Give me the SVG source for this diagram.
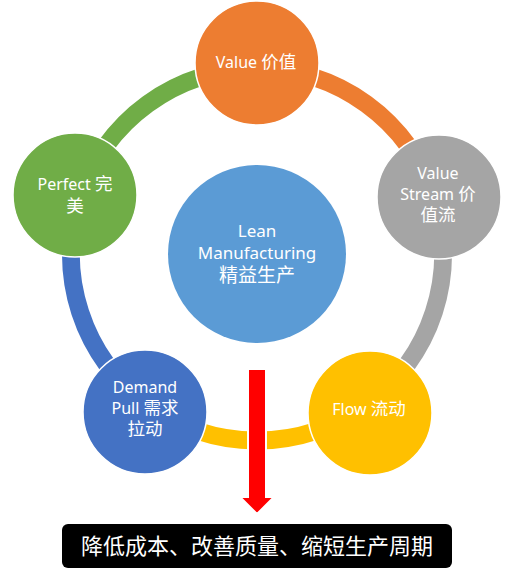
<svg xmlns="http://www.w3.org/2000/svg" width="512" height="572" viewBox="0 0 512 572">
<style>
.arc{fill:none;stroke-width:18}
.node{stroke:#fff;stroke-width:1.5}
.t{font-family:"Noto Sans","Noto Sans CJK SC",sans-serif;font-size:16px;fill:#fff;text-anchor:middle}
.c{font-family:"Noto Sans CJK SC","Noto Sans",sans-serif;font-size:17.5px}
.tc{font-size:17px}
.tc .c{font-size:19px}
.b{font-family:"Noto Sans CJK SC","Noto Sans",sans-serif;font-size:22px;fill:#fff;text-anchor:middle}
</style>
<rect width="512" height="572" fill="#fff"/>
<g id="connectors">
<path class="arc" stroke="#ED7D31" d="M257,68.5 A186,186 0 0 1 433.9,197"/>
<path class="arc" stroke="#A5A5A5" d="M433.9,197 A186,186 0 0 1 366.3,405"/>
<path class="arc" stroke="#FFC000" d="M366.3,405 A186,186 0 0 1 147.7,405"/>
<path class="arc" stroke="#4472C4" d="M147.7,405 A186,186 0 0 1 80.1,197"/>
<path class="arc" stroke="#70AD47" d="M80.1,197 A186,186 0 0 1 257,68.5"/>
</g>
<g id="center">
<circle cx="257" cy="254" r="89" fill="#5B9BD5"/>
<text class="t tc" x="257" y="237">Lean</text>
<text class="t tc" x="257" y="259">Manufacturing</text>
<text class="t tc" x="257" y="282"><tspan class="c">精益生产</tspan></text>
</g>
<g id="value">
<circle class="node" cx="257" cy="63" r="62" fill="#ED7D31"/>
<text class="t" x="256" y="68">Value <tspan class="c">价值</tspan></text>
</g>
<g id="value-stream">
<circle class="node" cx="439" cy="197" r="62" fill="#A5A5A5"/>
<text class="t" x="438" y="179">Value</text>
<text class="t" x="438" y="200">Stream <tspan class="c">价</tspan></text>
<text class="t" x="438" y="221"><tspan class="c">值流</tspan></text>
</g>
<g id="flow">
<circle class="node" cx="370" cy="413" r="62" fill="#FFC000"/>
<text class="t" x="369" y="415">Flow <tspan class="c">流动</tspan></text>
</g>
<g id="demand-pull">
<circle class="node" cx="145" cy="412" r="62" fill="#4472C4"/>
<text class="t" x="145" y="393">Demand</text>
<text class="t" x="145" y="414">Pull <tspan class="c">需求</tspan></text>
<text class="t" x="145" y="435"><tspan class="c">拉动</tspan></text>
</g>
<g id="perfect">
<circle class="node" cx="75" cy="195" r="62" fill="#70AD47"/>
<text class="t" x="75" y="190">Perfect <tspan class="c">完</tspan></text>
<text class="t" x="75" y="212"><tspan class="c">美</tspan></text>
</g>
<g id="arrow">
<polygon points="248,369 266,369 266,497 274,497 257,514 240,497 248,497" fill="#FF0000" stroke="#fff" stroke-width="2"/>
</g>
<g id="result">
<rect x="62" y="524" width="390" height="44" rx="6" fill="#000"/>
<text class="b" x="257" y="554">降低成本、改善质量、缩短生产周期</text>
</g>
</svg>
